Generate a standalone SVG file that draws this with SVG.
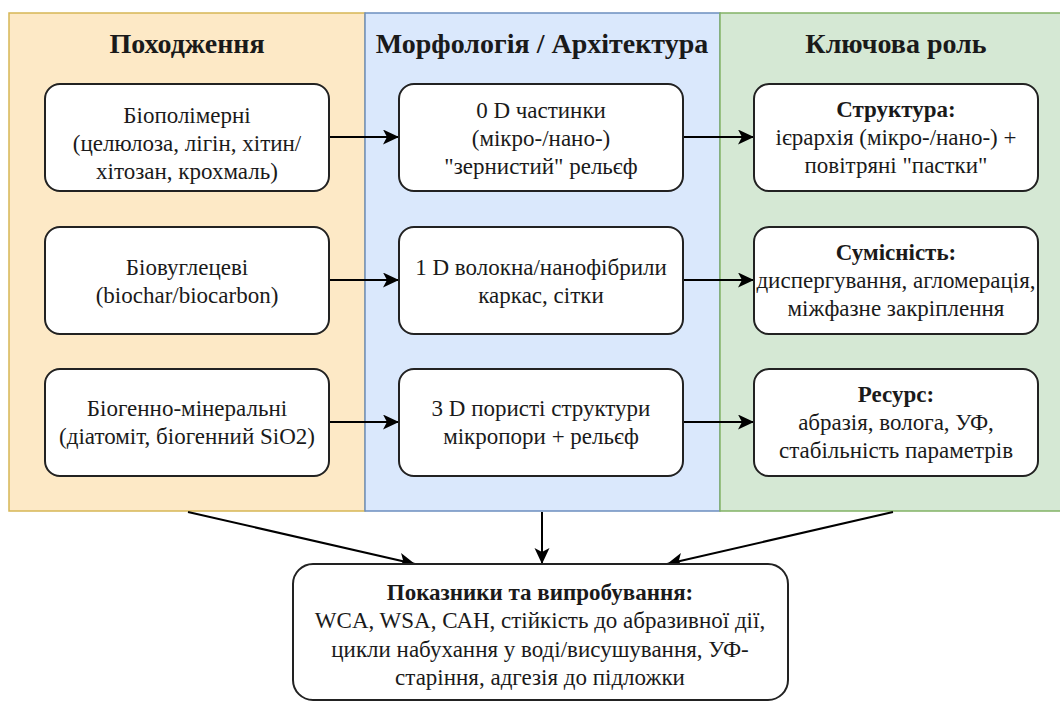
<svg xmlns="http://www.w3.org/2000/svg" width="1060" height="704" viewBox="0 0 1060 704">
<defs>
<marker id="arr" markerUnits="userSpaceOnUse" markerWidth="18" markerHeight="16" refX="16" refY="7.5" orient="auto">
<path d="M0,0 L16,7.5 L0,15 L4,7.5 Z" fill="#000"/>
</marker>
<style>
.t{font-family:"Liberation Serif","Times New Roman",serif;font-size:23px;fill:#1a1a1a;text-anchor:middle}
.b{font-weight:bold}
.h{font-family:"Liberation Serif","Times New Roman",serif;font-size:28px;font-weight:bold;fill:#1a1a1a;text-anchor:middle}
.n{fill:#fff;stroke:#222;stroke-width:2}
.c{stroke:#000;stroke-width:2;fill:none;marker-end:url(#arr)}
</style>
</defs>
<rect width="1060" height="704" fill="#fff"/>
<g id="panel-origin">
<rect x="9" y="13" width="356" height="498" fill="#fde9c6" stroke="#d6b656" stroke-width="1.5"/>
<text class="h" x="187" y="53">Походження</text>
</g>
<g id="panel-morph">
<rect x="365" y="13" width="355" height="498" fill="#dae8fc" stroke="#6c8ebf" stroke-width="1.5"/>
<text class="h" x="542" y="53">Морфологія / Архітектура</text>
</g>
<g id="panel-role">
<rect x="720" y="13" width="355" height="498" fill="#d5e8d4" stroke="#82b366" stroke-width="1.5"/>
<text class="h" x="896" y="53">Ключова роль</text>
</g>
<g id="connectors">
<line class="c" x1="329" y1="137" x2="399" y2="137"/>
<line class="c" x1="683" y1="137" x2="754" y2="137"/>
<line class="c" x1="329" y1="280" x2="399" y2="280"/>
<line class="c" x1="683" y1="280" x2="754" y2="280"/>
<line class="c" x1="329" y1="422" x2="399" y2="422"/>
<line class="c" x1="683" y1="422" x2="754" y2="422"/>
<line class="c" x1="188" y1="512" x2="415" y2="564"/>
<line class="c" x1="542" y1="512" x2="542" y2="564"/>
<line class="c" x1="893" y1="512" x2="667" y2="564"/>
</g>
<g id="n-biopolymer">
<rect class="n" x="45" y="84" width="284" height="107" rx="15"/>
<text class="t" x="187" y="123">Біополімерні</text>
<text class="t" x="187" y="151">(целюлоза, лігін, хітин/</text>
<text class="t" x="187" y="179">хітозан, крохмаль)</text>
</g>
<g id="n-biocarbon">
<rect class="n" x="45" y="227" width="284" height="107" rx="15"/>
<text class="t" x="187" y="275">Біовуглецеві</text>
<text class="t" x="187" y="303">(biochar/biocarbon)</text>
</g>
<g id="n-biomineral">
<rect class="n" x="45" y="369" width="284" height="107" rx="15"/>
<text class="t" x="187" y="416">Біогенно-мінеральні</text>
<text class="t" x="187" y="444">(діатоміт, біогенний SiO2)</text>
</g>
<g id="n-0d">
<rect class="n" x="399" y="84" width="284" height="107" rx="15"/>
<text class="t" x="541" y="118">0 D частинки</text>
<text class="t" x="541" y="146">(мікро-/нано-)</text>
<text class="t" x="541" y="174">"зернистий" рельєф</text>
</g>
<g id="n-1d">
<rect class="n" x="399" y="227" width="284" height="107" rx="15"/>
<text class="t" x="541" y="275">1 D волокна/нанофібрили</text>
<text class="t" x="541" y="303">каркас, сітки</text>
</g>
<g id="n-3d">
<rect class="n" x="399" y="369" width="284" height="107" rx="15"/>
<text class="t" x="541" y="416">3 D пористі структури</text>
<text class="t" x="541" y="444">мікропори + рельєф</text>
</g>
<g id="n-structure">
<rect class="n" x="754" y="84" width="284" height="107" rx="15"/>
<text class="t b" x="896" y="117">Структура:</text>
<text class="t" x="896" y="145">ієрархія (мікро-/нано-) +</text>
<text class="t" x="896" y="173">повітряні "пастки"</text>
</g>
<g id="n-compat">
<rect class="n" x="754" y="227" width="284" height="107" rx="15"/>
<text class="t b" x="896" y="260">Сумісність:</text>
<text class="t" x="896" y="288">диспергування, агломерація,</text>
<text class="t" x="896" y="316">міжфазне закріплення</text>
</g>
<g id="n-resource">
<rect class="n" x="754" y="369" width="284" height="107" rx="15"/>
<text class="t b" x="896" y="402">Ресурс:</text>
<text class="t" x="896" y="430">абразія, волога, УФ,</text>
<text class="t" x="896" y="458">стабільність параметрів</text>
</g>
<g id="n-metrics">
<rect class="n" x="293" y="564" width="495" height="136" rx="20"/>
<text class="t b" x="540" y="600">Показники та випробування:</text>
<text class="t" x="540" y="628">WCA, WSA, САН, стійкість до абразивної дії,</text>
<text class="t" x="540" y="657">цикли набухання у воді/висушування, УФ-</text>
<text class="t" x="540" y="685">старіння, адгезія до підложки</text>
</g>
</svg>
